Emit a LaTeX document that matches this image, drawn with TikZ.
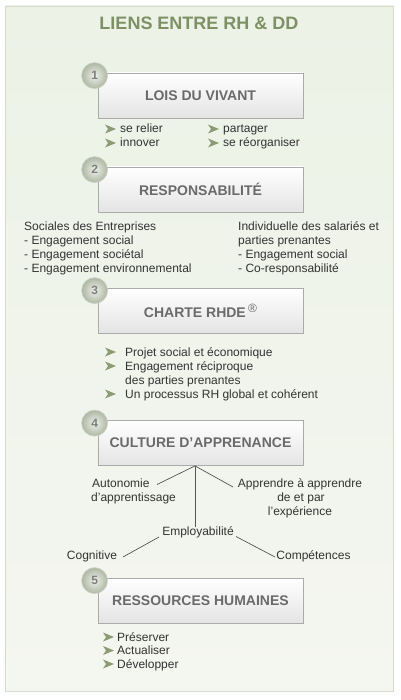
\documentclass[tikz,border=0pt]{standalone}
\usepackage{fontspec}
\setmainfont{Liberation Sans}
\definecolor{panelTop}{HTML}{ECF2E6}
\definecolor{panelBot}{HTML}{F4F6F0}
\definecolor{panelLine}{HTML}{D5DCCD}
\definecolor{titleGreen}{HTML}{7D9165}
\definecolor{boxLine}{HTML}{ABABAB}
\definecolor{boxBot}{HTML}{E4E4E4}
\definecolor{labelGray}{HTML}{6A6A6A}
\definecolor{txtGray}{HTML}{333333}
\definecolor{bulGreen}{HTML}{8C9B74}
\definecolor{badgeIn}{HTML}{EEF0EA}
\definecolor{badgeOut}{HTML}{AEB7A3}
\definecolor{badgeLine}{HTML}{CDD2C6}
\definecolor{numGray}{HTML}{7E7E7E}
\definecolor{connGray}{HTML}{555555}
\tikzset{
  rhbox/.style={draw=boxLine, line width=0.8pt, rectangle, minimum width=205pt, minimum height=45pt,
    top color=white, bottom color=boxBot, text=labelGray,
    font=\bfseries\fontsize{14}{16}\selectfont},
  badge/.style={circle, draw=badgeLine, line width=0.6pt, minimum size=26pt, inner sep=0pt,
    inner color=badgeIn, outer color=badgeOut, text=numGray,
    font=\bfseries\fontsize{12}{14}\selectfont},
  txt/.style={text=txtGray, font=\fontsize{12}{14}\selectfont, inner sep=0pt},
  conn/.style={draw=connGray, line width=0.7pt},
  bul/.pic={\fill[bulGreen] (0,-4.5) -- (11,0) -- (0,4.5) -- (3,0) -- cycle;}
}
\begin{document}
\begin{tikzpicture}[x=1pt,y=-1pt]
\useasboundingbox (0,0) rectangle (400,700);
\path[top color=panelTop, bottom color=panelBot, draw=panelLine, line width=0.8pt] (5,6) rectangle (393,691);

\node[text=titleGreen, font=\bfseries\fontsize{18}{20}\selectfont, inner sep=0pt, anchor=base] (title) at (199,30) {LIENS ENTRE RH \& DD};

% Box 1
\node[rhbox] (b1) at (200.5,95.5) {LOIS DU VIVANT};
\node[badge] (n1) at ([xshift=-3pt,yshift=-3pt]b1.north west) {1};
\pic at (105,129) {bul};
\node[txt, anchor=base west] (s1a) at (120,133) {se relier};
\pic at (105,143) {bul};
\node[txt, anchor=base west] (s1b) at (120,147) {innover};
\pic at (208,129) {bul};
\node[txt, anchor=base west] (s1c) at (223,133) {partager};
\pic at (208,143) {bul};
\node[txt, anchor=base west] (s1d) at (223,147) {se réorganiser};

% Box 2
\node[rhbox] (b2) at (200.5,189.5) {RESPONSABILITÉ};
\node[badge] (n2) at ([xshift=-3pt,yshift=-3pt]b2.north west) {2};
\node[txt, anchor=north west, align=left] (s2l) at (24,221.3) {Sociales des Entreprises\\- Engagement social\\- Engagement sociétal\\- Engagement environnemental};
\node[txt, anchor=north west, align=left] (s2r) at (238,221.3) {Individuelle des salariés et\\parties prenantes\\- Engagement social\\- Co-responsabilité};

% Box 3
\node[rhbox] (b3) at (200.5,310.5) {CHARTE RHDE\,\raisebox{5pt}{\mdseries\fontsize{12}{12}\selectfont ®}};
\node[badge] (n3) at ([xshift=-3pt,yshift=-3pt]b3.north west) {3};
\pic at (105,352) {bul};
\node[txt, anchor=base west] (s3a) at (125,356) {Projet social et économique};
\pic at (105,366) {bul};
\node[txt, anchor=base west] (s3b) at (125,370) {Engagement réciproque};
\node[txt, anchor=base west] (s3c) at (125,384) {des parties prenantes};
\pic at (105,394) {bul};
\node[txt, anchor=base west] (s3d) at (125,398) {Un processus RH global et cohérent};

% Box 4
\node[rhbox] (b4) at (200.5,443) {CULTURE D’APPRENANCE};
\node[badge] (n4) at ([xshift=-3pt,yshift=-3pt]b4.north west) {4};
\node[txt, anchor=base west] (auto1) at (92,487) {Autonomie};
\node[txt, anchor=base west] (auto2) at (91,501) {d’apprentissage};
\node[txt, anchor=base] (app1) at (300,487) {Apprendre à apprendre};
\node[txt, anchor=base] (app2) at (301,501) {de et par};
\node[txt, anchor=base] (app3) at (300,515) {l’expérience};
\node[txt, anchor=base] (emp) at (198,535) {Employabilité};
\node[txt, anchor=base] (cog) at (92,559) {Cognitive};
\node[txt, anchor=base] (comp) at (313.5,559) {Compétences};
\coordinate (root) at ([xshift=-5.5pt]b4.south);
\coordinate (autoE) at (157,484.5);
\coordinate (appW) at (233,487);
\coordinate (empN) at (195,527);
\coordinate (empW) at (159,537);
\coordinate (empE) at (236,536.5);
\coordinate (cogE) at (123,557);
\coordinate (compW) at (275,557);
\draw[conn] (root) -- (autoE);
\draw[conn] (root) -- (appW);
\draw[conn] (root) -- (empN);
\draw[conn] (empW) -- (cogE);
\draw[conn] (empE) -- (compW);

% Box 5
\node[rhbox] (b5) at (200.5,600.5) {RESSOURCES HUMAINES};
\node[badge] (n5) at ([xshift=-3pt,yshift=-3pt]b5.north west) {5};
\pic at (103,637) {bul};
\node[txt, anchor=base west] (s5a) at (117,641) {Préserver};
\pic at (103,650.5) {bul};
\node[txt, anchor=base west] (s5b) at (117,654.5) {Actualiser};
\pic at (103,664) {bul};
\node[txt, anchor=base west] (s5c) at (117,668) {Développer};
\end{tikzpicture}
\end{document}
